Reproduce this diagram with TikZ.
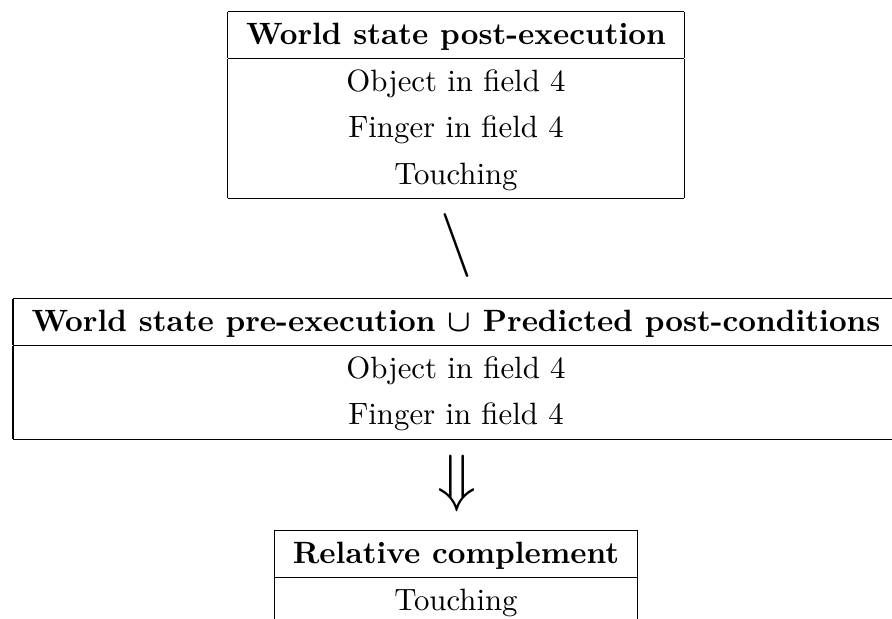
\documentclass[tikz,border=0pt]{standalone}
\usepackage{amssymb,amsmath}
\usepackage{tikz}
\renewcommand{\arraystretch}{1.25}

\begin{document}
\begin{tikzpicture}[x=0.3245pt,y=-0.3245pt]
        \useasboundingbox (0,0) rectangle (892,619);
        \tikzset{statebox/.style={inner sep=0pt,anchor=north}}

        \coordinate (T) at (456,10);
        \coordinate (M) at (456,297);
        \coordinate (B) at (456,529);

        \node[statebox] (post) at (T) {\begin{tabular}{|c|}
                \hline
                \textbf{World state post-execution}\\
                \hline
                Object in field 4\\
                Finger in field 4\\
                Touching\\
                \hline
        \end{tabular}};

        \node (minus) at (456,246) {\huge$\setminus$};

        \node[statebox] (pre) at (M) {\begin{tabular}{|c|}
                \hline
                \textbf{World state pre-execution {\boldmath$\cup$} Predicted post-conditions}\\
                \hline
                Object in field 4\\
                Finger in field 4\\
                \hline
        \end{tabular}};

        \node (implies) at (457,484) {\huge$\Downarrow$};

        \node[statebox] (diff) at (B) {\begin{tabular}{|c|}
                \hline
                \textbf{Relative complement}\\
                \hline
                Touching\\
                \hline
        \end{tabular}};
\end{tikzpicture}
\end{document}
